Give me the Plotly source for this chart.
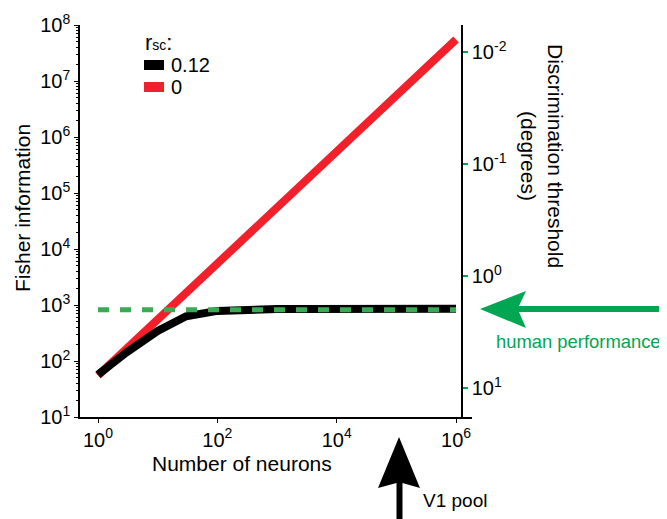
import math
import plotly.graph_objects as go

# ---------------- data ----------------
n_red = [1, 10, 100, 1e3, 1e4, 1e5, 1e6]
fi_red = [55, 550, 5500, 5.5e4, 5.5e5, 5.5e6, 5.5e7]          # r_sc = 0

n_black = [1, 3, 10, 30, 100, 300, 1e3, 3e3, 1e4, 3e4, 1e5, 3e5, 1e6]
fi_black = [57, 142, 345, 630, 785, 830, 845, 850, 852, 853, 853, 853, 853]  # r_sc = 0.12

n_human = [1, 1e6]
thr_human = [2.0, 2.0]        # discrimination threshold (degrees)

x_tickvals = [1, 1e2, 1e4, 1e6]
x_ticktext = ["10<sup>0</sup>", "10<sup>2</sup>", "10<sup>4</sup>", "10<sup>6</sup>"]
y_tickvals = [1e1, 1e2, 1e3, 1e4, 1e5, 1e6, 1e7, 1e8]
y_ticktext = ["10<sup>%d</sup>" % k for k in range(1, 9)]
y2_tickvals = [0.01, 0.1, 1, 10]
y2_ticktext = ["10<sup>-2</sup>", "10<sup>-1</sup>", "10<sup>0</sup>", "10<sup>1</sup>"]

legend_title = "r<span style='font-size:14px'>sc</span>:"
legend_labels = ["0.12", "0"]

# ---------------- styling ----------------
OFF = 8                                # page body margin in the browser
W, H = 667 - OFF, 519 - OFF
L, R, T, B = 80, 472, 25, 417          # plot area in screen pixels
FONT = "Liberation Sans, Arial, sans-serif"
RED = "#f2202b"
GREEN = "#00a651"
DASHGREEN = "#3aaa55"

def px(x):
    return (x - L) / (R - L)

def py(y):
    return (B - y) / (B - T)

x_lo = (L - 98) / 59.67
x_hi = (R - 98) / 59.67
k_deg = math.log10(180 / math.pi)
y_lo, y_hi = 1, 8

minor_y = [m * 10 ** d for d in range(1, 8) for m in range(2, 10)]

fig = go.Figure()
fig.add_trace(go.Scatter(x=n_red, y=fi_red, mode="lines",
                         line=dict(color=RED, width=8), hoverinfo="skip"))
fig.add_trace(go.Scatter(x=n_black, y=fi_black, mode="lines",
                         line=dict(color="black", width=8), hoverinfo="skip"))
fig.add_trace(go.Scatter(x=n_human, y=thr_human, mode="lines", yaxis="y2",
                         line=dict(color=DASHGREEN, width=5, dash="11px,11px"),
                         hoverinfo="skip"))

tickfont = dict(family=FONT, size=20, color="black")
fig.update_layout(
    width=W, height=H,
    margin=dict(l=L - OFF, r=W - (R - OFF), t=T - OFF, b=H - (B - OFF), autoexpand=False),
    paper_bgcolor="white", plot_bgcolor="white",
    showlegend=False,
    xaxis=dict(type="log", range=[x_lo, x_hi], tickvals=x_tickvals, ticktext=x_ticktext,
               ticks="outside", ticklen=4, tickcolor="black", tickwidth=1,
               showline=True, linecolor="black", linewidth=1.5,
               showgrid=False, zeroline=False, tickfont=tickfont),
    yaxis=dict(type="log", range=[y_lo, y_hi], tickvals=y_tickvals, ticktext=y_ticktext,
               ticks="outside", ticklen=4, tickcolor="black", tickwidth=1,
               minor=dict(tickvals=minor_y, ticks="outside", ticklen=2,
                          tickcolor="black", showgrid=False),
               showline=True, linecolor="black", linewidth=1.5,
               showgrid=False, zeroline=False, tickfont=tickfont),
    yaxis2=dict(type="log", overlaying="y", side="right", anchor="free",
                position=px(462),
                range=[k_deg - 0.5 * y_lo, k_deg - 0.5 * y_hi],
                tickvals=y2_tickvals, ticktext=y2_ticktext,
                ticks="outside", ticklen=5, tickwidth=2, tickcolor=GREEN,
                showline=True, linecolor="black", linewidth=1.5,
                showgrid=False, zeroline=False, tickfont=tickfont),
)

anns = [
    dict(x=px(242), y=py(463), text="Number of neurons", font=dict(family=FONT, size=21, color="black")),
    dict(x=px(22), y=py(208), text="Fisher information", textangle=-90,
         font=dict(family=FONT, size=21, color="black")),
    dict(x=px(542), y=py(156), text="Discrimination threshold<br>(degrees)", textangle=90,
         font=dict(family=FONT, size=21, color="black")),
    dict(x=px(494), y=py(341), text="human performance", xanchor="left",
         font=dict(family=FONT, size=18.4, color=GREEN)),
    dict(x=px(421), y=py(500), text="V1 pool", xanchor="left",
         font=dict(family=FONT, size=19, color="black")),
    dict(x=px(143), y=py(42), text=legend_title, xanchor="left",
         font=dict(family=FONT, size=22, color="black")),
    dict(x=px(169), y=py(65), text=legend_labels[0], xanchor="left",
         font=dict(family=FONT, size=20, color="black")),
    dict(x=px(169), y=py(87), text=legend_labels[1], xanchor="left",
         font=dict(family=FONT, size=20, color="black")),
]
for a in anns:
    a.setdefault("xanchor", "center")
    a.update(xref="paper", yref="paper", yanchor="middle", showarrow=False)
fig.update_layout(annotations=anns)

def path(points):
    return "M " + " L ".join("%.4f,%.4f" % (px(x), py(y)) for x, y in points) + " Z"

shapes = [
    # legend patches
    dict(type="rect", x0=px(144), x1=px(164), y0=py(60), y1=py(70), fillcolor="black", line_width=0),
    dict(type="rect", x0=px(144), x1=px(164), y0=py(82), y1=py(92), fillcolor=RED, line_width=0),
    # black arrow (V1 pool)
    dict(type="path", path=path([(399, 437), (420, 488), (402.5, 483), (402.5, 520),
                                 (396.5, 520), (396.5, 483), (378, 488)]),
         fillcolor="black", line_width=0),
    # green arrow (human performance)
    dict(type="path", path=path([(480, 309), (526, 291), (519, 306), (668, 306),
                                 (668, 312), (519, 312), (526, 328)]),
         fillcolor=GREEN, line_width=0),
]
for s in shapes:
    s.update(xref="paper", yref="paper", layer="above")
fig.update_layout(shapes=shapes)

fig.write_html("out.html")
